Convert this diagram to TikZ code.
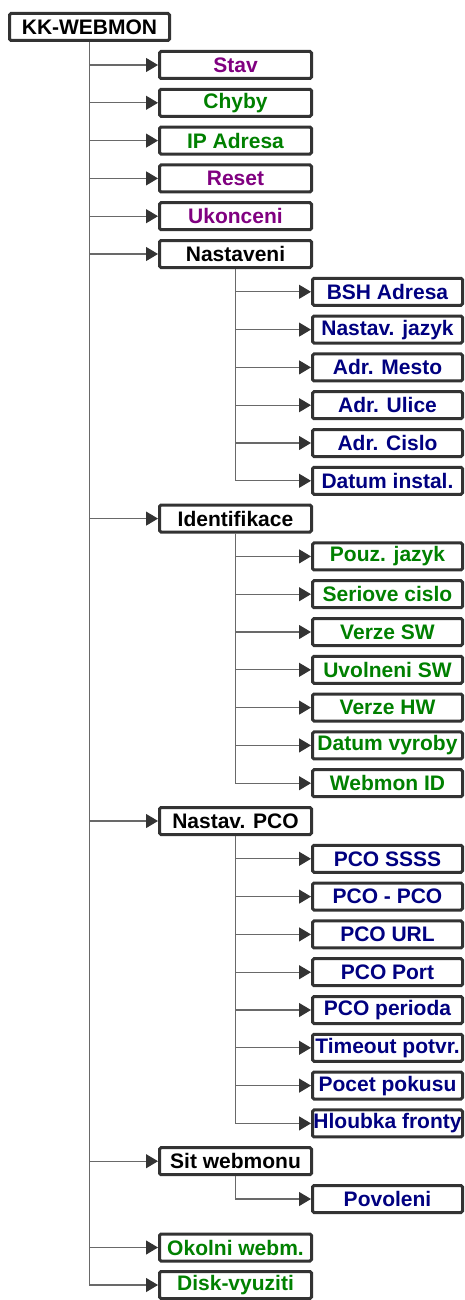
\documentclass[tikz,border=0pt]{standalone}
\usepackage{fontspec}
\setmainfont{Liberation Sans}
\usepackage{tikz}
\usetikzlibrary{arrows.meta}
\definecolor{boxgrey}{RGB}{51,51,51}
\definecolor{linegrey}{RGB}{105,105,105}
\definecolor{menupurple}{RGB}{128,0,128}
\definecolor{menugreen}{RGB}{0,128,0}
\definecolor{menunavy}{RGB}{0,0,128}
\tikzset{
  base/.style={font=\fontsize{21}{22}\selectfont\bfseries, align=center, inner sep=0pt},
  box/.style={base, rectangle, rounded corners=1.5pt, draw=boxgrey, fill=white, line width=3pt, minimum height=27pt},
  top/.style={box, minimum width=160pt},
  lvone/.style={box, minimum width=152pt},
  lvtwo/.style={box, minimum width=150pt},
  purp/.style={text=menupurple},
  grn/.style={text=menugreen},
  nvy/.style={text=menunavy},
  arr/.style={-{Triangle[length=12pt,width=14pt,color=boxgrey]}, line width=1.1pt, draw=linegrey},
}

\begin{document}
\begin{tikzpicture}[x=1pt,y=-1pt]
  \useasboundingbox (0,0) rectangle (465,1300);
  % root
  \node[top] (root) at (89.5,27) {KK-WEBMON};
  % first level
  \node[lvone,purp] (stav)  at (235.5,65)    {Stav};
  \node[lvone,grn]  (chyby) at (235.5,102.8) {Chyby};
  \node[lvone,grn]  (ipadr) at (235.5,140.6) {IP Adresa};
  \node[lvone,purp] (reset) at (235.5,178.4) {Reset};
  \node[lvone,purp] (ukon)  at (235.5,216.2) {Ukonceni};
  \node[lvone]      (nast)  at (235.5,254)   {Nastaveni};
  \node[lvone]      (ident) at (235.5,518.6) {Identifikace};
  \node[lvone]      (npco)  at (235.5,821)   {Nastav. PCO};
  \node[lvone]      (sit)   at (235.5,1161.2){Sit webmonu};
  \node[lvone,grn]  (okol)  at (235.5,1247.5){Okolni webm.};
  \node[lvone,grn]  (disk)  at (235.5,1285)  {Disk-vyuziti};
  % nastaveni
  \node[lvtwo,nvy] (bsh)   at (387.5,291.8) {BSH Adresa};
  \node[lvtwo,nvy] (jazyk) at (387.5,329.6) {Nastav. jazyk};
  \node[lvtwo,nvy] (mesto) at (387.5,367.4) {Adr. Mesto};
  \node[lvtwo,nvy] (ulice) at (387.5,405.2) {Adr. Ulice};
  \node[lvtwo,nvy] (cislo) at (387.5,443)   {Adr. Cislo};
  \node[lvtwo,nvy] (instal) at (387.5,480.8) {Datum instal.};
  % identifikace
  \node[lvtwo,grn] (pouz)  at (387.5,556.4) {Pouz. jazyk};
  \node[lvtwo,grn] (serio) at (387.5,594.2) {Seriove cislo};
  \node[lvtwo,grn] (vsw)   at (387.5,632)   {Verze SW};
  \node[lvtwo,grn] (uvsw)  at (387.5,669.8) {Uvolneni SW};
  \node[lvtwo,grn] (vhw)   at (387.5,707.6) {Verze HW};
  \node[lvtwo,grn] (vyrob) at (387.5,745.4) {Datum vyroby};
  \node[lvtwo,grn] (wid)   at (387.5,783.2) {Webmon ID};
  % nastav. pco
  \node[lvtwo,nvy] (ssss)  at (387.5,858.8)  {PCO SSSS};
  \node[lvtwo,nvy] (pcopco) at (387.5,896.6) {PCO - PCO};
  \node[lvtwo,nvy] (url)   at (387.5,934.4)  {PCO URL};
  \node[lvtwo,nvy] (port)  at (387.5,972.2)  {PCO Port};
  \node[lvtwo,nvy] (perio) at (387.5,1010)   {PCO perioda};
  \node[lvtwo,nvy] (tout)  at (387.5,1047.8) {Timeout potvr.};
  \node[lvtwo,nvy] (pocet) at (387.5,1085.6) {Pocet pokusu};
  \node[lvtwo,nvy] (hloub) at (387.5,1123.4) {Hloubka fronty};
  % sit webmonu
  \node[lvtwo,nvy] (povol) at (387.5,1199)   {Povoleni};
  % connectors
  \draw[arr] (root.south) |- (stav.west);
  \draw[arr] (root.south) |- (chyby.west);
  \draw[arr] (root.south) |- (ipadr.west);
  \draw[arr] (root.south) |- (reset.west);
  \draw[arr] (root.south) |- (ukon.west);
  \draw[arr] (root.south) |- (nast.west);
  \draw[arr] (root.south) |- (ident.west);
  \draw[arr] (root.south) |- (npco.west);
  \draw[arr] (root.south) |- (sit.west);
  \draw[arr] (root.south) |- (okol.west);
  \draw[arr] (root.south) |- (disk.west);
  \draw[arr] (nast.south) |- (bsh.west);
  \draw[arr] (nast.south) |- (jazyk.west);
  \draw[arr] (nast.south) |- (mesto.west);
  \draw[arr] (nast.south) |- (ulice.west);
  \draw[arr] (nast.south) |- (cislo.west);
  \draw[arr] (nast.south) |- (instal.west);
  \draw[arr] (ident.south) |- (pouz.west);
  \draw[arr] (ident.south) |- (serio.west);
  \draw[arr] (ident.south) |- (vsw.west);
  \draw[arr] (ident.south) |- (uvsw.west);
  \draw[arr] (ident.south) |- (vhw.west);
  \draw[arr] (ident.south) |- (vyrob.west);
  \draw[arr] (ident.south) |- (wid.west);
  \draw[arr] (npco.south) |- (ssss.west);
  \draw[arr] (npco.south) |- (pcopco.west);
  \draw[arr] (npco.south) |- (url.west);
  \draw[arr] (npco.south) |- (port.west);
  \draw[arr] (npco.south) |- (perio.west);
  \draw[arr] (npco.south) |- (tout.west);
  \draw[arr] (npco.south) |- (pocet.west);
  \draw[arr] (npco.south) |- (hloub.west);
  \draw[arr] (sit.south) |- (povol.west);
\end{tikzpicture}
\end{document}
